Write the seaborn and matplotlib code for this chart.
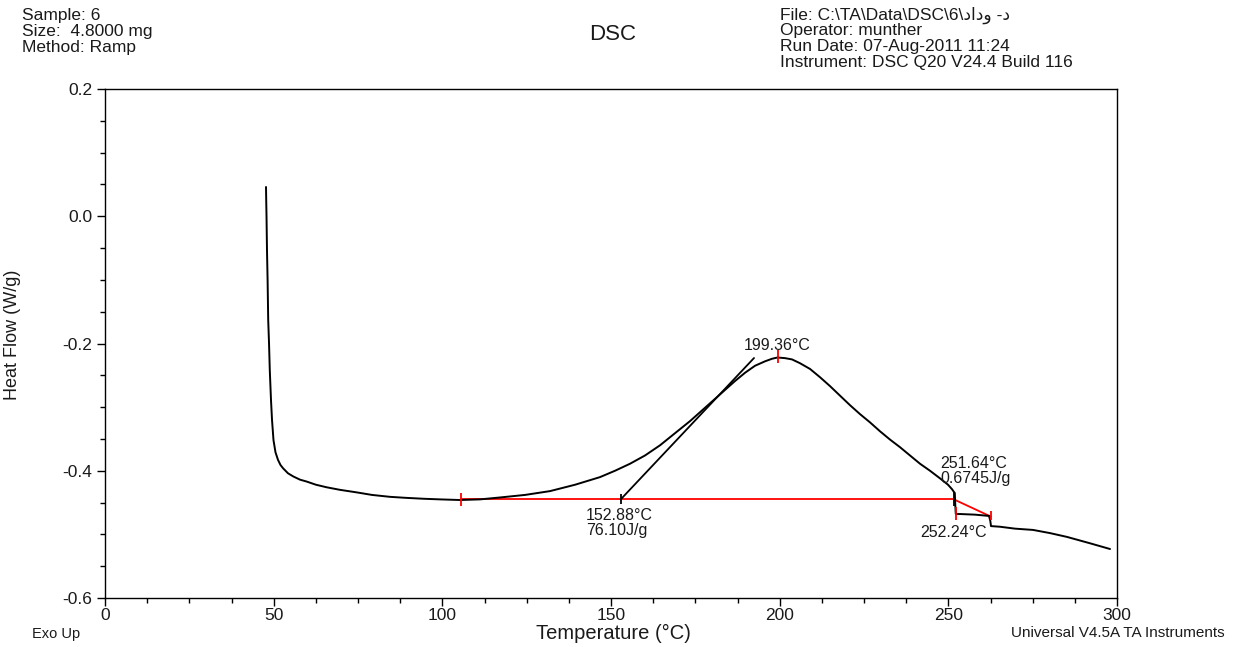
import matplotlib
matplotlib.use("Agg")
import matplotlib.pyplot as plt
import numpy as np
import pandas as pd
import seaborn as sns
from matplotlib.ticker import MultipleLocator, FormatStrFormatter

# DSC heat-flow trace (temperature in °C, heat flow in W/g)
temperature_c = [
    47.73, 47.79, 47.88, 48.02, 48.20, 48.38, 48.62, 48.85, 49.21, 49.51,
    49.95, 50.54, 51.29, 52.03, 52.77, 54.25, 55.82, 57.81, 59.79, 62.55,
    65.72, 69.66, 74.62, 79.15, 84.49, 88.94, 94.36, 99.31, 105.24, 111.17,
    117.10, 124.51, 131.92, 139.33, 146.74, 151.19, 155.63, 160.08, 164.53,
    168.97, 173.42, 177.87, 182.32, 186.76, 189.73, 192.69, 195.66, 197.73,
    199.36, 201.58, 203.66, 206.03, 209.00, 211.96, 214.93, 217.89, 220.86,
    223.82, 226.79, 229.75, 232.71, 235.68, 238.64, 241.61, 244.57, 247.54,
    249.91, 251.09, 251.62, 251.92, 252.06, 252.21, 253.46, 257.90, 262.06,
    262.45, 262.65, 265.32, 269.77, 275.10, 280.14, 285.18, 292.00, 297.93,
]
heat_flow_wg = [
    0.046, 0.0255, 0.000, -0.053, -0.100, -0.163, -0.199, -0.242, -0.289,
    -0.320, -0.352, -0.371, -0.383, -0.391, -0.396, -0.404, -0.409, -0.414,
    -0.417, -0.422, -0.426, -0.430, -0.434, -0.438, -0.441, -0.4425, -0.444,
    -0.445, -0.446, -0.445, -0.442, -0.438, -0.432, -0.422, -0.410, -0.400,
    -0.389, -0.376, -0.360, -0.341, -0.322, -0.301, -0.280, -0.259, -0.246,
    -0.235, -0.228, -0.224, -0.222, -0.223, -0.225, -0.231, -0.240, -0.253,
    -0.267, -0.282, -0.297, -0.311, -0.324, -0.338, -0.351, -0.363, -0.376,
    -0.389, -0.400, -0.412, -0.422, -0.429, -0.433, -0.435, -0.454, -0.468,
    -0.468, -0.469, -0.471, -0.479, -0.487, -0.488, -0.491, -0.493, -0.498,
    -0.504, -0.514, -0.523,
]

# Run information
header_left = ["Sample: 6", "Size:  4.8000 mg", "Method: Ramp"]
header_right = [
    "File: C:\\TA\\Data\\DSC\\6\\\u062f\u0627\u062f\u0648 -\u062f",
    "Operator: munther",
    "Run Date: 07-Aug-2011 11:24",
    "Instrument: DSC Q20 V24.4 Build 116",
]

# Peak analysis results
baseline1_start = 105.5
baseline_flow = -0.445
onset1_temp = 152.88
enthalpy1 = 76.10
tangent_end_temp = 192.4
tangent_end_flow = -0.2228
peak_temp = 199.36
peak_flow = -0.222
onset2_temp = 251.64
enthalpy2 = 0.6745
end2_temp = 252.24
end2_flow = -0.4675
baseline2_end_temp = 262.6
baseline2_end_flow = -0.472

x_ticks = [0, 50, 100, 150, 200, 250, 300]
y_ticks = [-0.6, -0.4, -0.2, 0.0, 0.2]

sns.set_theme(style="ticks")
plt.rcParams["font.family"] = ["Liberation Sans", "DejaVu Sans"]
plt.rcParams["axes.unicode_minus"] = False

W, H = 1236, 647
fig = plt.figure(figsize=(W / 100, H / 100), dpi=100)
ax = fig.add_axes([105 / W, 1 - 598 / H, (1117 - 105) / W, (598 - 89) / H])

df = pd.DataFrame({"T": temperature_c, "HF": heat_flow_wg})

red = "#ff0000"
ink = "#1a1a1a"
# integration baselines
ax.plot([baseline1_start, onset2_temp], [baseline_flow, baseline_flow],
        color=red, lw=1.3, zorder=2)
ax.plot([onset2_temp, baseline2_end_temp], [baseline_flow, baseline2_end_flow],
        color=red, lw=1.3, zorder=2)

sns.lineplot(data=df, x="T", y="HF", sort=False, estimator=None,
             color="black", lw=1.4, ax=ax, zorder=3)

# onset tangent
ax.plot([onset1_temp, tangent_end_temp], [baseline_flow, tangent_end_flow],
        color="black", lw=1.3, zorder=3)

# limit markers
ax.vlines(baseline1_start, baseline_flow - 0.011, baseline_flow + 0.010, color=red, lw=1.3, zorder=4)
ax.vlines(onset1_temp, baseline_flow - 0.008, baseline_flow + 0.008, color="black", lw=1.3, zorder=4)
ax.vlines(peak_temp, peak_flow - 0.009, peak_flow + 0.011, color=red, lw=1.3, zorder=4)
ax.vlines(onset2_temp, baseline_flow - 0.010, baseline_flow + 0.012, color="black", lw=1.3, zorder=4)
ax.vlines(end2_temp, end2_flow - 0.010, end2_flow + 0.010, color=red, lw=1.3, zorder=4)
ax.vlines(baseline2_end_temp, baseline2_end_flow - 0.005, baseline2_end_flow + 0.009, color=red, lw=1.3, zorder=4)

ann = dict(fontsize=11.5, color=ink, va="center")
ax.text(142.6, -0.4705, f"{onset1_temp:.2f}°C", ha="left", **ann)
ax.text(142.6, -0.4935, f"{enthalpy1:.2f}J/g", ha="left", **ann)
ax.text(peak_temp, -0.2035, f"{peak_temp:.2f}°C", ha="center", **ann)
ax.text(247.6, -0.3885, f"{onset2_temp:.2f}°C", ha="left", **ann)
ax.text(247.6, -0.4115, f"{enthalpy2:.4f}J/g", ha="left", **ann)
ax.text(241.8, -0.4965, f"{end2_temp:.2f}°C", ha="left", **ann)

ax.set_xlim(0, 300)
ax.set_ylim(-0.6, 0.2)
ax.set_xticks(x_ticks)
ax.set_yticks(y_ticks)
ax.xaxis.set_minor_locator(MultipleLocator(12.5))
ax.yaxis.set_minor_locator(MultipleLocator(0.05))
ax.yaxis.set_major_formatter(FormatStrFormatter("%.1f"))
ax.tick_params(which="major", length=6, width=1, color="black",
               labelsize=12.5, labelcolor=ink)
ax.tick_params(axis="x", which="major", pad=1)
ax.tick_params(axis="y", which="major", pad=3)
ax.tick_params(which="minor", length=3.5, width=1, color="black")
for s in ax.spines.values():
    s.set_visible(True)
    s.set_color("black")
    s.set_linewidth(1.0)

ax.set_xlabel("Temperature (°C)", fontsize=14.5, color=ink)
ax.set_ylabel("Heat Flow (W/g)", fontsize=13, color=ink)
ax.xaxis.set_label_coords((613 - 105) / 1012, (598 - 624) / 509)
ax.yaxis.label.set_verticalalignment("center")
ax.yaxis.set_label_coords((13 - 105) / 1012, (598 - 335) / 509)

# header blocks
for txt, base in zip(header_left, [20, 36, 52]):
    fig.text(22 / W, 1 - base / H, txt, fontsize=12.5, color=ink,
             ha="left", va="baseline")
for txt, base in zip(header_right, [20, 35.5, 51, 66.5]):
    fig.text(780 / W, 1 - base / H, txt, fontsize=12.5, color=ink,
             ha="left", va="baseline")
fig.text(613 / W, 1 - 40 / H, "DSC", fontsize=16, color=ink,
         ha="center", va="baseline")
fig.text(32 / W, 1 - 638 / H, "Exo Up", fontsize=10.5, color=ink,
         ha="left", va="baseline")
fig.text(1225 / W, 1 - 637 / H, "Universal V4.5A TA Instruments", fontsize=11,
         color=ink, ha="right", va="baseline")

fig.savefig("out.png", dpi=100, facecolor="white")
